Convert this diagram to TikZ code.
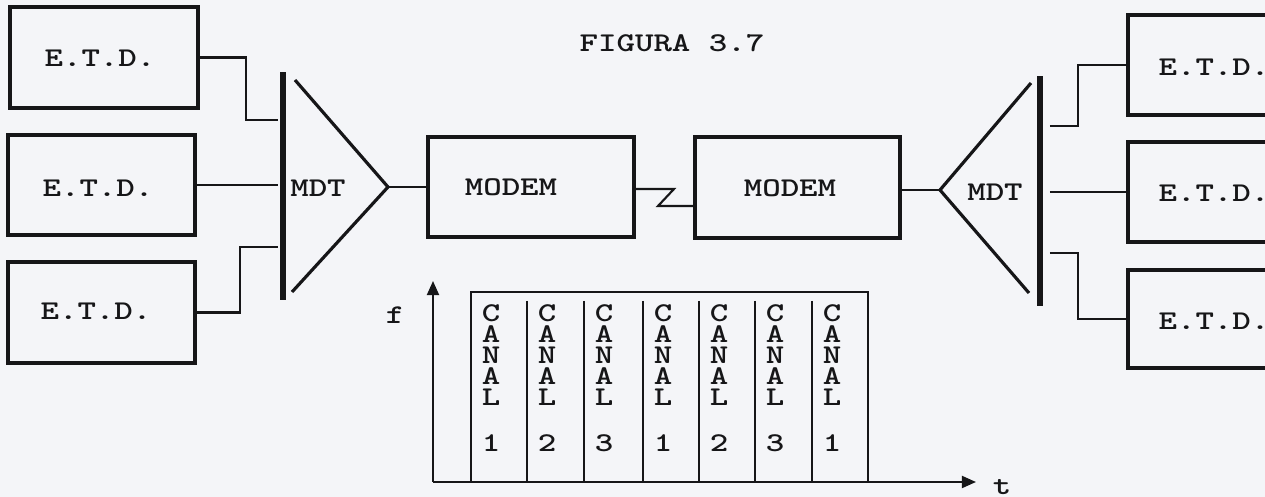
\documentclass[tikz,border=0pt]{standalone}
\usepackage{fontspec}
\newfontfamily\dotfont{lmmonolt10-bold.otf}[FakeStretch=1.3]
\usetikzlibrary{arrows.meta}
\definecolor{paper}{RGB}{244,245,248}
\definecolor{ink}{RGB}{22,22,24}
\begin{document}
\begin{tikzpicture}[x=0.01cm,y=-0.01cm,
  font=\dotfont\fontsize{7.7pt}{6pt}\selectfont,
  box/.style={draw=ink, line width=1.1pt, inner sep=0pt},
  lbl/.style={text=ink, inner sep=0pt, anchor=center},
  wire/.style={draw=ink, line width=0.6pt},
  tri/.style={draw=ink, line width=0.9pt, line join=miter},
  bar/.style={fill=ink, inner sep=0pt, minimum width=0.06cm},
  chart/.style={draw=ink, line width=0.6pt},
  canal/.style={text=ink, inner sep=0pt, align=center, anchor=north},
  tip/.style={-{Triangle[length=4pt,width=3.4pt]}}]
\fill[paper] (0,0) rectangle (1265,497);
\useasboundingbox (0,0) rectangle (1265,497);
\clip (0,0) rectangle (1265,497);

% title
\node[lbl] (title) at (672,43) {FIGURA 3.7};

% left E.T.D. boxes
\node[box, minimum width=1.88cm, minimum height=1.01cm] (L1) at (104,57.5) {};
\node[box, minimum width=1.87cm, minimum height=1.00cm] (L2) at (101.5,185) {};
\node[box, minimum width=1.87cm, minimum height=1.01cm] (L3) at (101.5,312.5) {};
\node[lbl] (tL1) at (100,58) {E.T.D.};
\node[lbl] (tL2) at (98,188) {E.T.D.};
\node[lbl] (tL3) at (96,311) {E.T.D.};

% left MDT
\node[bar, minimum height=2.28cm] (barL) at (283,186) {};
\coordinate (mL1) at (278,120);
\coordinate (mL2) at (278,185);
\coordinate (mL3) at (278,247);
\coordinate (kL1) at (246,120);
\coordinate (kL3) at (240,247);
\draw[wire] (L1.east) -| (kL1) -- (mL1);
\draw[wire] (L2.east) -- (mL2);
\draw[wire] (L3.east) -| (kL3) -- (mL3);
\coordinate (tLt) at (295,80);
\coordinate (apexL) at (388,187);
\coordinate (tLb) at (292,292);
\draw[tri] (tLt) -- (apexL) -- (tLb);
\node[lbl] (mdtL) at (318,188) {MDT};

% modems
\node[box, minimum width=2.06cm, minimum height=1.00cm] (M1) at (531,187) {};
\node[box, minimum width=2.05cm, minimum height=1.01cm] (M2) at (797.5,187.5) {};
\node[lbl] (tM1) at (511,187) {MODEM};
\node[lbl] (tM2) at (790,188) {MODEM};
\draw[wire] (apexL) -- (M1.west);
\coordinate (z1) at (674,189);
\coordinate (z2) at (658,206);
\draw[wire] (M1.east |- z1) -- (z1) -- (z2) -- (M2.west |- z2);

% right MDT
\coordinate (apexR) at (940,190);
\coordinate (tRt) at (1031,83);
\coordinate (tRb) at (1029,293);
\draw[wire] (M2.east |- apexR) -- (apexR);
\draw[tri] (tRt) -- (apexR) -- (tRb);
\node[bar, minimum height=2.30cm] (barR) at (1040,191) {};
\node[lbl] (mdtR) at (995,192) {MDT};

% right E.T.D. boxes
\node[box, minimum width=1.75cm, minimum height=1.00cm] (R1) at (1215.5,65) {};
\node[box, minimum width=1.75cm, minimum height=1.00cm] (R2) at (1215.5,192) {};
\node[box, minimum width=1.75cm, minimum height=0.98cm] (R3) at (1215.5,319) {};
\node[lbl] (tR1) at (1214,67) {E.T.D.};
\node[lbl] (tR2) at (1214,193) {E.T.D.};
\node[lbl] (tR3) at (1214,321) {E.T.D.};
\coordinate (mR1) at (1050,126);
\coordinate (mR2) at (1050,192);
\coordinate (mR3) at (1050,253);
\coordinate (kR1) at (1078,126);
\coordinate (kR3) at (1078,253);
\draw[wire] (mR1) -- (kR1) |- (R1.west);
\draw[wire] (mR2) -- (R2.west);
\draw[wire] (mR3) -- (kR3) |- (R3.west);

% time/frequency chart
\coordinate (O) at (433,482);
\coordinate (fTip) at (433,281);
\coordinate (tTip) at (976,482);
\draw[chart, tip] (O) -- (fTip);
\draw[chart, tip] (O) -- (tTip);
\node[lbl] (f) at (395,315) {f};
\node[lbl] (t) at (1002,487) {t};
\draw[chart] (471,482) -- (471,292) -- (868,292) -- (868,482);
\foreach \x in {527,584,643,699,755,812}
  \draw[chart] (\x,301) -- (\x,482);
\foreach \x/\n [count=\i] in {471/1,527/2,584/3,643/1,699/2,755/3,812/1}
  \node[canal] (c\i) at (\x+20,304) {C\\A\\N\\A\\L\\[7pt]\n};
\end{tikzpicture}
\end{document}
